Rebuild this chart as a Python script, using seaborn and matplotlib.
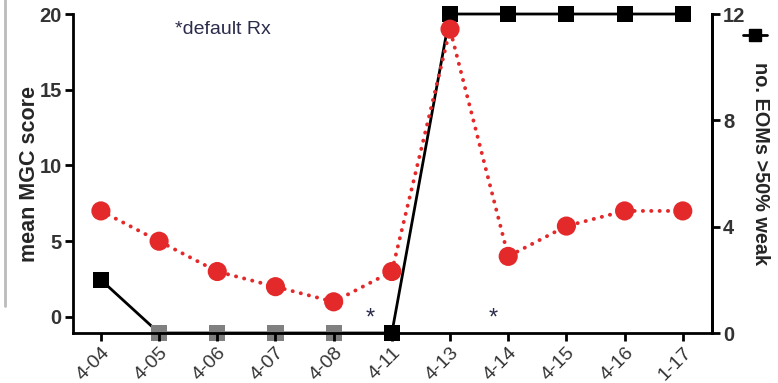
import numpy as np
import pandas as pd
import seaborn as sns
import matplotlib.pyplot as plt
from matplotlib.lines import Line2D

dates = ['4-04', '4-05', '4-06', '4-07', '4-08', '4-11', '4-13', '4-14', '4-15', '4-16', '1-17']
mgc_score = [7, 5, 3, 2, 1, 3, 19, 4, 6, 7, 7]
eoms_weak = [2, 0, 0, 0, 0, 0, 12, 12, 12, 12, 12]
eoms_shade = ['black', 'grey', 'grey', 'grey', 'grey', 'black', 'black', 'black', 'black', 'black', 'black']
default_rx = [4.62, 6.74]  # positions of the '*' marks between dates

sns.set_style('ticks')
plt.rcParams['font.family'] = ['Liberation Sans', 'DejaVu Sans']

df = pd.DataFrame({'idx': np.arange(len(dates)), 'date': dates, 'mgc': mgc_score,
                   'eoms': eoms_weak, 'shade': eoms_shade})

fig = plt.figure(figsize=(7.78, 3.83), dpi=100)
ax = fig.add_axes([0.0938, 0.1305, 0.8212, 0.8329])
ax2 = ax.twinx()

# red dotted mgc score
sns.lineplot(data=df, x='idx', y='mgc', ax=ax, color='#e3292a', lw=2.8,
             linestyle=(0, (0.05, 2.1)), dash_capstyle='round', zorder=3)
sns.scatterplot(data=df, x='idx', y='mgc', ax=ax, color='#e3292a', s=190,
                edgecolor='none', zorder=4, clip_on=False)

# black EOMs line + squares
sns.lineplot(data=df, x='idx', y='eoms', ax=ax2, color='black', lw=2, zorder=3, clip_on=False)
sns.scatterplot(data=df, x='idx', y='eoms', hue='shade', palette={'black': 'black', 'grey': '#808080'},
                marker='s', s=135, edgecolor='none', ax=ax2, legend=False, zorder=4, clip_on=False)

ax.set_xlim(-0.48, 10.5)
ax.set_ylim(-1.06, 20)
ax2.set_ylim(0, 12)
ax.set_yticks([0, 5, 10, 15, 20])
ax2.set_yticks([0, 4, 8, 12])
ax.set_xticks(df['idx'])
ax.set_xticklabels(dates, rotation=45, ha='right', rotation_mode='anchor', fontsize=14, color='#333333')

for a in (ax, ax2):
    a.spines['top'].set_visible(False)
    for s in a.spines.values():
        s.set_linewidth(2)
        s.set_color('black')
    a.tick_params(width=2, length=6, color='black', pad=2)
    for lab in a.get_yticklabels():
        lab.set_fontweight('bold')
        lab.set_fontsize(14.5)
        lab.set_color('#333333')
ax2.spines['left'].set_visible(False)
ax2.spines['bottom'].set_visible(False)

ax.set_xlabel('')
ax.set_ylabel('mean MGC score', fontsize=15.5, fontweight='bold')
ax.yaxis.set_label_coords(-0.052, 0.5)
ax2.set_ylabel('')
ax.set_zorder(ax2.get_zorder() + 1)
ax.patch.set_visible(False)

for xpos in default_rx:
    ax.text(xpos, -0.1, '*', color='#2b2b4b', fontsize=17, ha='center', va='center')
ax.text(1.28, 19.0, '*default Rx', color='#2b2b4b', fontsize=14, ha='left', va='center')

# right-hand label with its legend glyph
fig.text(0.977, 0.572, 'no. EOMs >50% weak', rotation=270, fontsize=14.3, fontweight='bold',
         ha='center', va='center')
fig.add_artist(Line2D([0.955, 0.986], [0.909, 0.909], color='black', lw=2))
fig.add_artist(Line2D([0.970], [0.909], color='black', marker='s', markersize=9, lw=0))
fig.add_artist(Line2D([0.006, 0.006], [0.2, 1.0], color='#bbbbbb', lw=2))

fig.savefig('out.png', dpi=100)
